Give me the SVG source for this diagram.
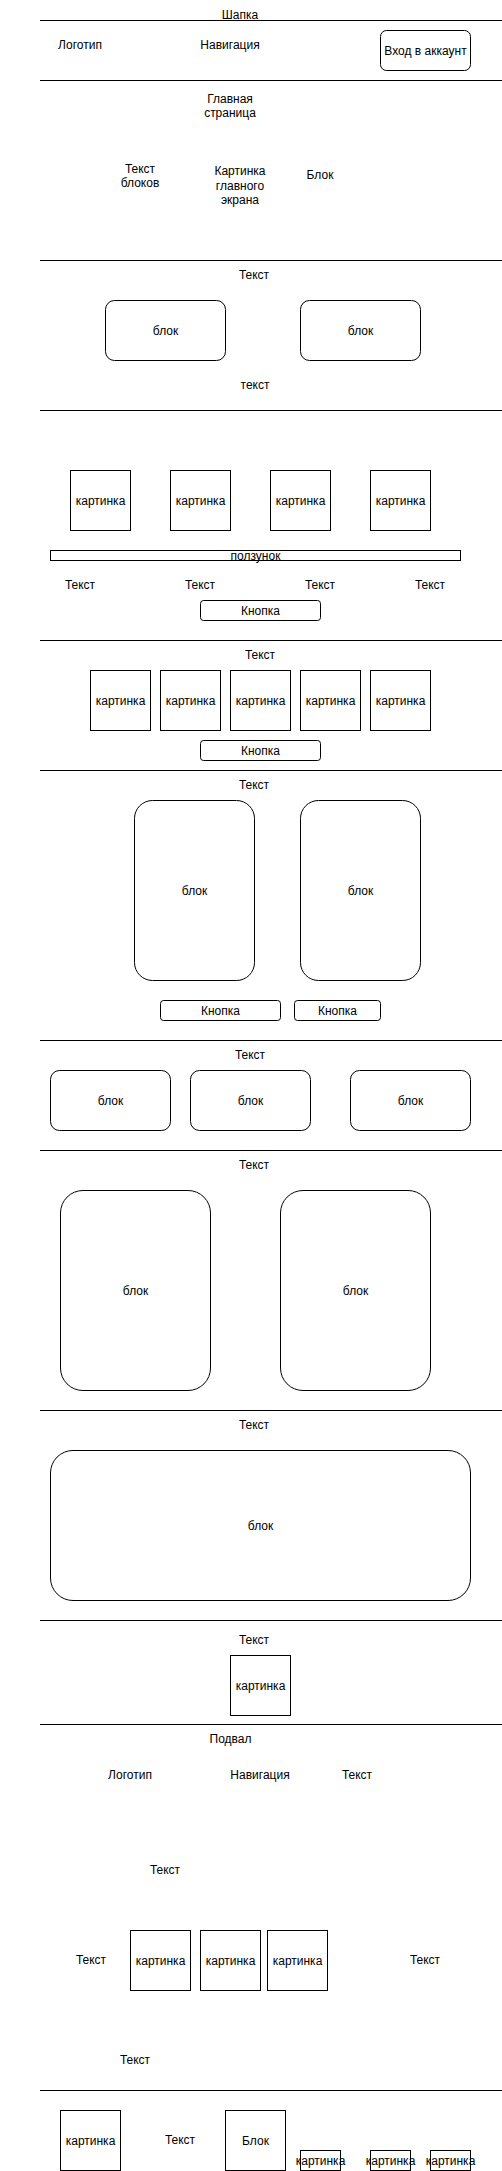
<svg xmlns="http://www.w3.org/2000/svg" width="502" height="2171" viewBox="0 0 502 2171">
<style>
.ln{stroke:#000;stroke-width:1;fill:none}
.bx{fill:#fff;stroke:#000;stroke-width:1}
text{font-family:"Liberation Sans",Arial,Helvetica,sans-serif;font-size:12px;fill:#000;text-anchor:middle}
</style>
<rect width="502" height="2171" fill="#fff"/>
<g id="dividers">
<line class="ln" x1="40" y1="20.5" x2="502" y2="20.5"/>
<line class="ln" x1="40" y1="80.5" x2="502" y2="80.5"/>
<line class="ln" x1="40" y1="260.5" x2="502" y2="260.5"/>
<line class="ln" x1="40" y1="410.5" x2="502" y2="410.5"/>
<line class="ln" x1="40" y1="640.5" x2="502" y2="640.5"/>
<line class="ln" x1="40" y1="770.5" x2="502" y2="770.5"/>
<line class="ln" x1="40" y1="1040.5" x2="502" y2="1040.5"/>
<line class="ln" x1="40" y1="1150.5" x2="502" y2="1150.5"/>
<line class="ln" x1="40" y1="1410.5" x2="502" y2="1410.5"/>
<line class="ln" x1="40" y1="1620.5" x2="502" y2="1620.5"/>
<line class="ln" x1="40" y1="1724.5" x2="502" y2="1724.5"/>
<line class="ln" x1="40" y1="2090.5" x2="502" y2="2090.5"/>
</g>
<g id="header">
<text x="240" y="19">Шапка</text>
<text x="80" y="49.3">Логотип</text>
<text x="230" y="49.3">Навигация</text>
</g>
<g id="login-button"><rect class="bx" x="380.5" y="30.5" width="90" height="40" rx="6"/><text x="425.5" y="54.7">Вход в аккаунт</text></g>
<g id="main-page">
<text x="230" y="102.5">Главная</text>
<text x="230" y="117">страница</text>
<text x="140" y="172.5">Текст</text>
<text x="140" y="187.2">блоков</text>
<text x="240" y="175.3">Картинка</text>
<text x="240" y="189.7">главного</text>
<text x="240" y="204.1">экрана</text>
<text x="320" y="179.3">Блок</text>
</g>
<g id="s2">
<text x="254" y="279">Текст</text>
<g id="s2-b1"><rect class="bx" x="105.5" y="300.5" width="120" height="60" rx="9"/><text x="165.5" y="334.7">блок</text></g>
<g id="s2-b2"><rect class="bx" x="300.5" y="300.5" width="120" height="60" rx="9"/><text x="360.5" y="334.7">блок</text></g>
<text x="255" y="388.5">текст</text>
</g>
<g id="s3">
<g id="s3-p1"><rect class="bx" x="70.5" y="470.5" width="60" height="60"/><text x="100.5" y="504.7">картинка</text></g>
<g id="s3-p2"><rect class="bx" x="170.5" y="470.5" width="60" height="60"/><text x="200.5" y="504.7">картинка</text></g>
<g id="s3-p3"><rect class="bx" x="270.5" y="470.5" width="60" height="60"/><text x="300.5" y="504.7">картинка</text></g>
<g id="s3-p4"><rect class="bx" x="370.5" y="470.5" width="60" height="60"/><text x="400.5" y="504.7">картинка</text></g>
<g id="s3-slider"><rect class="bx" x="50.5" y="550.5" width="410" height="10"/><text x="255.5" y="559.7">ползунок</text></g>
<text x="80" y="588.6">Текст</text>
<text x="200" y="588.6">Текст</text>
<text x="320" y="588.6">Текст</text>
<text x="430" y="588.6">Текст</text>
<g id="s3-btn"><rect class="bx" x="200.5" y="600.5" width="120" height="20" rx="3"/><text x="260.5" y="614.7">Кнопка</text></g>
</g>
<g id="s4">
<text x="260" y="658.6">Текст</text>
<g id="s4-p1"><rect class="bx" x="90.5" y="670.5" width="60" height="60"/><text x="120.5" y="704.7">картинка</text></g>
<g id="s4-p2"><rect class="bx" x="160.5" y="670.5" width="60" height="60"/><text x="190.5" y="704.7">картинка</text></g>
<g id="s4-p3"><rect class="bx" x="230.5" y="670.5" width="60" height="60"/><text x="260.5" y="704.7">картинка</text></g>
<g id="s4-p4"><rect class="bx" x="300.5" y="670.5" width="60" height="60"/><text x="330.5" y="704.7">картинка</text></g>
<g id="s4-p5"><rect class="bx" x="370.5" y="670.5" width="60" height="60"/><text x="400.5" y="704.7">картинка</text></g>
<g id="s4-btn"><rect class="bx" x="200.5" y="740.5" width="120" height="20" rx="3"/><text x="260.5" y="754.7">Кнопка</text></g>
</g>
<g id="s5">
<text x="254" y="788.6">Текст</text>
<g id="s5-b1"><rect class="bx" x="134.5" y="800.5" width="120" height="180" rx="18"/><text x="194.5" y="894.7">блок</text></g>
<g id="s5-b2"><rect class="bx" x="300.5" y="800.5" width="120" height="180" rx="18"/><text x="360.5" y="894.7">блок</text></g>
<g id="s5-btn1"><rect class="bx" x="160.5" y="1000.5" width="120" height="20" rx="3"/><text x="220.5" y="1014.7">Кнопка</text></g>
<g id="s5-btn2"><rect class="bx" x="294.5" y="1000.5" width="86" height="20" rx="3"/><text x="337.5" y="1014.7">Кнопка</text></g>
</g>
<g id="s6">
<text x="250" y="1058.6">Текст</text>
<g id="s6-b1"><rect class="bx" x="50.5" y="1070.5" width="120" height="60" rx="9"/><text x="110.5" y="1104.7">блок</text></g>
<g id="s6-b2"><rect class="bx" x="190.5" y="1070.5" width="120" height="60" rx="9"/><text x="250.5" y="1104.7">блок</text></g>
<g id="s6-b3"><rect class="bx" x="350.5" y="1070.5" width="120" height="60" rx="9"/><text x="410.5" y="1104.7">блок</text></g>
</g>
<g id="s7">
<text x="254" y="1168.6">Текст</text>
<g id="s7-b1"><rect class="bx" x="60.5" y="1190.5" width="150" height="200" rx="22.5"/><text x="135.5" y="1294.7">блок</text></g>
<g id="s7-b2"><rect class="bx" x="280.5" y="1190.5" width="150" height="200" rx="22.5"/><text x="355.5" y="1294.7">блок</text></g>
</g>
<g id="s8">
<text x="254" y="1428.6">Текст</text>
<g id="s8-b1"><rect class="bx" x="50.5" y="1450.5" width="420" height="150" rx="22.5"/><text x="260.5" y="1529.7">блок</text></g>
</g>
<g id="s9">
<text x="254" y="1643.6">Текст</text>
<g id="s9-p1"><rect class="bx" x="230.5" y="1655.5" width="60" height="60"/><text x="260.5" y="1689.7">картинка</text></g>
</g>
<g id="footer">
<text x="230.5" y="1743">Подвал</text>
<text x="130" y="1779">Логотип</text>
<text x="260" y="1779">Навигация</text>
<text x="357" y="1779">Текст</text>
<text x="165" y="1874">Текст</text>
<text x="91" y="1964">Текст</text>
<g id="f-p1"><rect class="bx" x="130.5" y="1930.5" width="60" height="60"/><text x="160.5" y="1964.7">картинка</text></g>
<g id="f-p2"><rect class="bx" x="200.5" y="1930.5" width="60" height="60"/><text x="230.5" y="1964.7">картинка</text></g>
<g id="f-p3"><rect class="bx" x="267.5" y="1930.5" width="60" height="60"/><text x="297.5" y="1964.7">картинка</text></g>
<text x="425" y="1964">Текст</text>
<text x="135" y="2063.6">Текст</text>
</g>
<g id="bottom">
<g id="b-p1"><rect class="bx" x="60.5" y="2110.5" width="60" height="60"/><text x="90.5" y="2144.7">картинка</text></g>
<text x="180" y="2144">Текст</text>
<g id="b-block"><rect class="bx" x="225.5" y="2110.5" width="60" height="60"/><text x="255.5" y="2144.7">Блок</text></g>
<g id="b-p2"><rect class="bx" x="300.5" y="2150.5" width="40" height="20"/><text x="320.5" y="2164.7">картинка</text></g>
<g id="b-p3"><rect class="bx" x="370.5" y="2150.5" width="40" height="20"/><text x="390.5" y="2164.7">картинка</text></g>
<g id="b-p4"><rect class="bx" x="430.5" y="2150.5" width="40" height="20"/><text x="450.5" y="2164.7">картинка</text></g>
</g>
</svg>
